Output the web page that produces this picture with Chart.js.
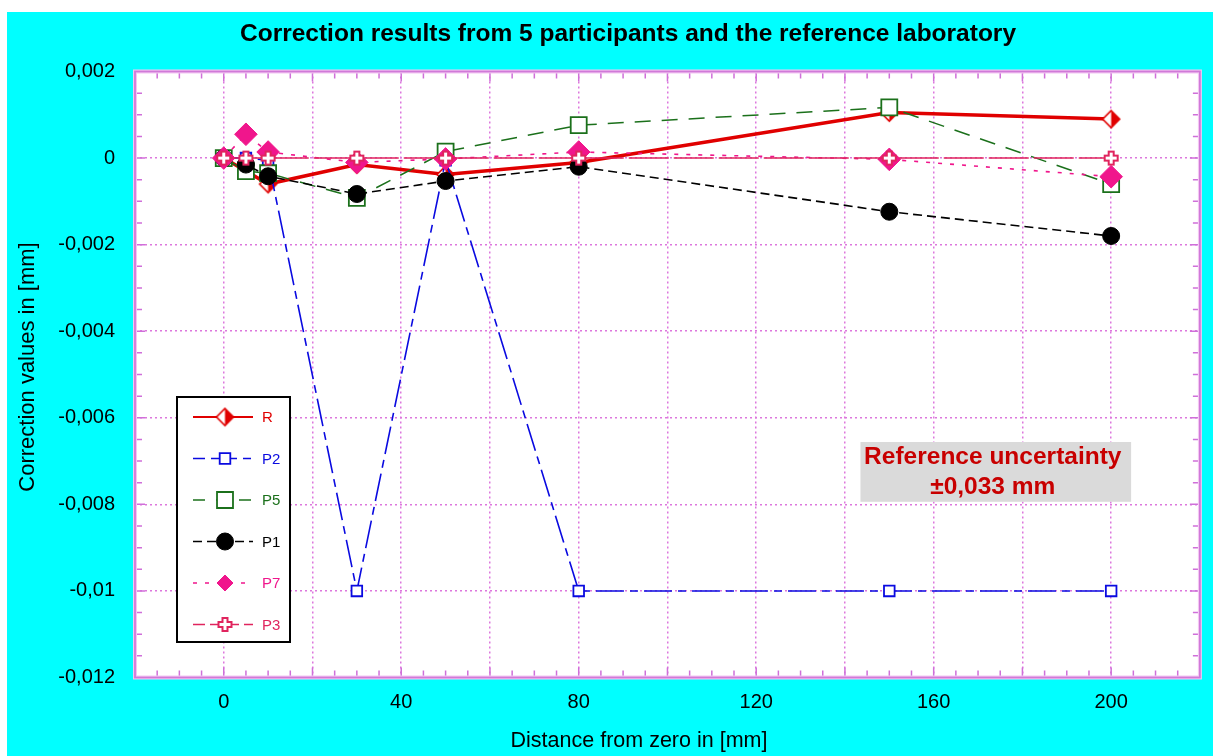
<!DOCTYPE html>
<html>
<head>
<meta charset="utf-8">
<script src="https://cdn.jsdelivr.net/npm/chart.js@4.4.0/dist/chart.umd.min.js"></script>
<style>
  html, body { margin: 0; background: #fff; }
  #wrap { position: absolute; left: 7px; top: 12px; width: 1206px; height: 744px; background: #00ffff; }
</style>
</head>
<body>
<div id="wrap"><canvas id="chart"></canvas></div>
<script>
// distances in mm, correction values in mm
const distances = [0, 5, 10, 30, 50, 80, 150, 200];
const seriesR  = [0, null, -0.0006, -0.00015, -0.00038, -0.0001, 0.00105, 0.0009];
const seriesP2 = [0, 0, -0.00005, -0.01, -0.00005, -0.01, -0.01, -0.01];
const seriesP5 = [0, -0.0003, -0.00035, -0.00092, 0.00015, 0.00076, 0.00117, -0.0006];
const seriesP1 = [0, -0.00015, -0.00042, -0.00083, -0.00053, -0.0002, -0.00124, -0.0018];
const seriesP7 = [0, 0.00055, 0.00014, -0.0001, -0.00002, 0.00014, -0.00003, -0.00043];
const seriesP3 = [0, 0, 0, 0, 0, 0, 0, 0];
const seriesNames = ['R', 'P2', 'P5', 'P1', 'P7', 'P3'];
const xTickLabels = [0, 40, 80, 120, 160, 200];

const FONT = 'Arial, "Liberation Sans", sans-serif';
Chart.defaults.font.family = FONT;
Chart.defaults.color = '#000';

function halfDiamond(r, color) {
  const c = document.createElement('canvas');
  const s = Math.ceil(r * 2 + 4);
  c.width = c.height = s;
  const g = c.getContext('2d');
  const m = s / 2;
  const path = () => { g.beginPath(); g.moveTo(m, m - r); g.lineTo(m + r, m); g.lineTo(m, m + r); g.lineTo(m - r, m); g.closePath(); };
  path(); g.fillStyle = '#fff'; g.fill();
  g.beginPath(); g.moveTo(m, m - r); g.lineTo(m + r, m); g.lineTo(m, m + r); g.closePath();
  g.fillStyle = color; g.fill();
  path(); g.lineWidth = 1.6; g.strokeStyle = color; g.stroke();
  return c;
}
function openPlus(e, a, color) {
  const c = document.createElement('canvas');
  const s = Math.ceil(e * 2 + 4);
  c.width = c.height = s;
  const g = c.getContext('2d');
  const m = s / 2;
  const pts = [[-a,-e],[a,-e],[a,-a],[e,-a],[e,a],[a,a],[a,e],[-a,e],[-a,a],[-e,a],[-e,-a],[-a,-a]];
  g.beginPath();
  pts.forEach((p, i) => i ? g.lineTo(m + p[0], m + p[1]) : g.moveTo(m + p[0], m + p[1]));
  g.closePath();
  g.fillStyle = '#fff'; g.fill();
  g.lineWidth = 2; g.strokeStyle = color; g.stroke();
  return c;
}

const red = '#e00000', blue = '#0a0ae0', green = '#1b701b', pink = '#f0168c', crimson = '#e0245e';
const pts = vals => distances.map((x, i) => ({ x, y: vals[i] }));

const datasets = [
  { label: seriesNames[0], data: pts(seriesR), borderColor: red, borderWidth: 3.5, spanGaps: true,
    pointStyle: halfDiamond(8.5, red), pointRadius: 9, order: 6 },
  { label: seriesNames[1], data: pts(seriesP2), borderColor: blue, borderWidth: 1.6, borderDash: [28, 6, 8, 6],
    pointStyle: 'rect', pointRadius: 7.5, pointBorderWidth: 1.8, pointBackgroundColor: '#fff', pointBorderColor: blue, order: 5 },
  { label: seriesNames[2], data: pts(seriesP5), borderColor: green, borderWidth: 1.5, borderDash: [16, 11],
    pointStyle: 'rect', pointRadius: 11.3, pointBorderWidth: 1.8, pointBackgroundColor: '#fff', pointBorderColor: green, order: 4 },
  { label: seriesNames[3], data: pts(seriesP1), borderColor: '#000', borderWidth: 1.6, borderDash: [9, 5],
    pointStyle: 'circle', pointRadius: 8.5, pointBorderWidth: 1, pointBackgroundColor: '#000', pointBorderColor: '#000', order: 3 },
  { label: seriesNames[4], data: pts(seriesP7), borderColor: pink, borderWidth: 1.6, borderDash: [4, 8],
    pointStyle: 'rectRot', pointRadius: 11.3, pointBorderWidth: 1, pointBackgroundColor: pink, pointBorderColor: pink, order: 2 },
  { label: seriesNames[5], data: pts(seriesP3), borderColor: crimson, borderWidth: 1.6, borderDash: [40, 5],
    pointStyle: openPlus(6.5, 2.5, crimson), pointRadius: 7, order: 1 }
];

function drawMarker(ctx, ds, x, y) {
  const st = ds.pointStyle, r = ds.pointRadius;
  ctx.save();
  ctx.setLineDash([]);
  ctx.fillStyle = ds.pointBackgroundColor || '#fff';
  ctx.strokeStyle = ds.pointBorderColor || ds.borderColor;
  ctx.lineWidth = ds.pointBorderWidth || 1;
  if (typeof st === 'object') {
    ctx.drawImage(st, x - st.width / 2, y - st.height / 2);
  } else {
    ctx.beginPath();
    const s = Math.SQRT1_2 * r;
    if (st === 'circle') ctx.arc(x, y, r, 0, Math.PI * 2);
    else if (st === 'rect') ctx.rect(x - s, y - s, 2 * s, 2 * s);
    else if (st === 'rectRot') { ctx.moveTo(x - s, y); ctx.lineTo(x, y + s); ctx.lineTo(x + s, y); ctx.lineTo(x, y - s); ctx.closePath(); }
    ctx.fill(); ctx.stroke();
  }
  ctx.restore();
}

const decor = {
  id: 'decor',
  beforeDraw(chart) {
    const { ctx, chartArea: a } = chart;
    ctx.save();
    ctx.fillStyle = '#fff';
    ctx.fillRect(a.left, a.top, a.right - a.left, a.bottom - a.top);
    ctx.restore();
  },
  beforeDatasetsDraw(chart) {
    const { ctx, chartArea: a, scales: { x, y } } = chart;
    ctx.save();
    ctx.strokeStyle = '#cf6fd9';
    ctx.lineWidth = 1.5;
    ctx.beginPath();
    for (let v = x.min; v <= x.max + 1e-9; v += 5) {
      const px = x.getPixelForValue(v);
      const len = (Math.round(v) % 20 === 0) ? 10 : 7;
      ctx.moveTo(px, a.bottom); ctx.lineTo(px, a.bottom - len);
      ctx.moveTo(px, a.top); ctx.lineTo(px, a.top + len);
    }
    for (let k = Math.round(y.min / 0.0005); k <= Math.round(y.max / 0.0005); k++) {
      const py = y.getPixelForValue(k * 0.0005);
      const len = (k % 4 === 0) ? 10 : 7;
      ctx.moveTo(a.left, py); ctx.lineTo(a.left + len, py);
      ctx.moveTo(a.right, py); ctx.lineTo(a.right - len, py);
    }
    ctx.stroke();
    ctx.strokeStyle = '#f3c6f3';
    ctx.lineWidth = 4;
    ctx.strokeRect(a.left, a.top, a.right - a.left, a.bottom - a.top);
    ctx.strokeStyle = '#d07ad8';
    ctx.lineWidth = 1.8;
    ctx.strokeRect(a.left, a.top, a.right - a.left, a.bottom - a.top);
    ctx.restore();
  },
  afterDraw(chart) {
    const { ctx, chartArea: a, scales: { x, y } } = chart;
    ctx.save();
    // title and axis titles
    ctx.fillStyle = '#000';
    ctx.font = 'bold 24.5px ' + FONT;
    ctx.textAlign = 'center';
    ctx.textBaseline = 'middle';
    ctx.fillText('Correction results from 5 participants and the reference laboratory', 621, 22);
    ctx.font = '21.5px ' + FONT;
    ctx.fillText('Distance from zero in [mm]', 632, 729);
    ctx.save();
    ctx.translate(21, 355);
    ctx.rotate(-Math.PI / 2);
    ctx.font = '22px ' + FONT;
    ctx.fillText('Correction values in [mm]', 0, 0);
    ctx.restore();

    // reference uncertainty box
    const bx1 = x.getPixelForValue(143.5), bx2 = x.getPixelForValue(204.5);
    const by1 = y.getPixelForValue(-0.00656), by2 = y.getPixelForValue(-0.00794);
    ctx.fillStyle = '#dadada';
    ctx.fillRect(bx1, by1, bx2 - bx1, by2 - by1);
    ctx.fillStyle = '#c80000';
    ctx.font = 'bold 24.5px ' + FONT;
    const cx = (bx1 + bx2) / 2 - 3;
    ctx.fillText('Reference uncertainty', cx, by1 + 15);
    ctx.fillText('\u00b10,033 mm', cx, by1 + 45);

    // legend
    const lx = a.left + 42, lw = 113, lh = 245;
    const ly = a.bottom - 35.5 - lh;
    ctx.fillStyle = '#fff';
    ctx.fillRect(lx, ly, lw, lh);
    ctx.lineWidth = 2;
    ctx.strokeStyle = '#000';
    ctx.strokeRect(lx, ly, lw, lh);
    chart.data.datasets.forEach((ds, i) => {
      const ey = ly + 20 + i * 41.5;
      ctx.save();
      ctx.strokeStyle = ds.borderColor;
      ctx.lineWidth = Math.min(ds.borderWidth, 2);
      ctx.setLineDash(ds.borderDash ? ds.borderDash.map(d => Math.min(d, 12)) : []);
      ctx.beginPath();
      ctx.moveTo(lx + 16, ey); ctx.lineTo(lx + 76, ey);
      ctx.stroke();
      ctx.restore();
      drawMarker(ctx, ds, lx + 48, ey);
      ctx.fillStyle = ds.borderColor;
      ctx.font = '15px ' + FONT;
      ctx.textAlign = 'left';
      ctx.fillText(ds.label, lx + 85, ey + 1);
    });
    ctx.restore();
  }
};

new Chart(document.getElementById('chart'), {
  type: 'scatter',
  data: { datasets: datasets.map(d => Object.assign({ showLine: true, fill: false, tension: 0 }, d)) },
  options: {
    responsive: true,
    maintainAspectRatio: false,
    animation: false,
    events: [],
    layout: { padding: { top: 59.5, right: 7, left: 0, bottom: 0 } },
    plugins: { legend: { display: false }, tooltip: { enabled: false }, title: { display: false } },
    scales: {
      x: {
        type: 'linear', min: -20, max: 220,
        afterFit(s) { s.height = 78.5; },
        ticks: { stepSize: 20, autoSkip: false, maxRotation: 0, padding: 13, font: { size: 20 },
          callback: v => xTickLabels.includes(v) ? String(v) : '' },
        grid: { color: '#dd77dd', lineWidth: 1.5, drawTicks: false },
        border: { display: false, dash: [2, 3] }
      },
      y: {
        type: 'linear', min: -0.012, max: 0.002,
        afterFit(s) { s.width = 128; },
        ticks: { stepSize: 0.002, autoSkip: false, padding: 20, font: { size: 20 },
          callback: v => { const r = Math.round(v * 1000) / 1000; return r === 0 ? '0' : String(r).replace('.', ','); } },
        grid: { color: '#dd77dd', lineWidth: 1.5, drawTicks: false },
        border: { display: false, dash: [2, 3] }
      }
    }
  },
  plugins: [decor]
});
</script>
</body>
</html>
